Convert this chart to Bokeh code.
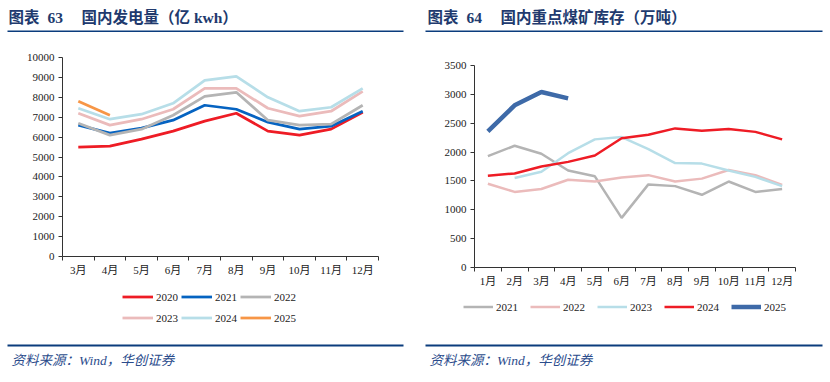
import numpy as np
from bokeh.plotting import figure
from bokeh.models import Legend, LegendItem, FixedTicker, Range1d, Label, BoxAnnotation
from bokeh.layouts import column, row
from bokeh.embed import file_html
from bokeh.resources import INLINE

# ---------------- data: left chart (国内发电量, 亿kwh) ----------------
months_l = ["3月", "4月", "5月", "6月", "7月", "8月", "9月", "10月", "11月", "12月"]
gen_2020 = [5500, 5550, 5900, 6300, 6800, 7200, 6300, 6100, 6400, 7250]
gen_2021 = [6600, 6200, 6450, 6850, 7600, 7400, 6750, 6400, 6550, 7300]
gen_2022 = [6700, 6100, 6400, 7100, 8050, 8250, 6850, 6600, 6650, 7600]
gen_2023 = [7200, 6600, 6900, 7400, 8450, 8450, 7450, 7050, 7300, 8300]
gen_2024 = [7450, 6900, 7150, 7700, 8850, 9050, 8000, 7300, 7500, 8450]
gen_2025 = [7800, 7100]
years_l = ["2020", "2021", "2022", "2023", "2024", "2025"]

# ---------------- data: right chart (国内重点煤矿库存, 万吨) ----------------
months_r = ["1月", "2月", "3月", "4月", "5月", "6月", "7月", "8月", "9月", "10月", "11月", "12月"]
inv_2021 = [1930, 2110, 1970, 1680, 1580, 860, 1440, 1410, 1260, 1490, 1310, 1360]
inv_2022 = [1450, 1310, 1360, 1520, 1490, 1560, 1600, 1490, 1540, 1690, 1600, 1430]
inv_2023 = [np.nan, 1550, 1660, 1980, 2220, 2260, 2050, 1810, 1800, 1680, 1570, 1410]
inv_2024 = [1590, 1630, 1750, 1830, 1940, 2240, 2300, 2410, 2370, 2400, 2350, 2220]
inv_2025 = [2360, 2810, 3040, 2930]
years_r = ["2021", "2022", "2023", "2024", "2025"]

FONT = "Liberation Serif, Noto Sans CJK SC"
AXIS_COLOR = "#333333"
NAVY = "#0B3C7D"
TITLE_COLOR = "#213A6E"
SOURCE_COLOR = "#2B4C8C"


def style_base(p):
    p.background_fill_color = "white"
    p.border_fill_color = "white"
    p.outline_line_color = None
    p.frame_align = False


def make_fig(width, height, mbl, mbr, mbt, mbb, labels, ymax, ystep):
    n = len(labels)
    p = figure(width=width, height=height, output_backend="svg", toolbar_location=None,
               title=None,
               x_range=Range1d(-0.5, n - 0.5), y_range=Range1d(0, ymax),
               min_border_left=mbl, min_border_right=mbr,
               min_border_top=mbt, min_border_bottom=mbb)
    style_base(p)
    p.xgrid.visible = False
    p.ygrid.visible = False
    xa = p.xaxis[0]
    xa.ticker = FixedTicker(ticks=list(range(n)),
                            minor_ticks=[i - 0.5 for i in range(n + 1)])
    xa.major_label_overrides = {i: lab for i, lab in enumerate(labels)}
    xa.major_tick_in = 0
    xa.major_tick_out = 0
    xa.minor_tick_in = 0
    xa.minor_tick_out = 4
    xa.major_label_standoff = 3
    ya = p.yaxis[0]
    ya.ticker = FixedTicker(ticks=list(range(0, ymax + 1, ystep)), minor_ticks=[])
    ya.major_tick_in = 0
    ya.major_tick_out = 4
    ya.minor_tick_out = 0
    ya.major_label_standoff = 4
    for ax in (xa, ya):
        ax.axis_line_color = AXIS_COLOR
        ax.major_tick_line_color = AXIS_COLOR
        ax.minor_tick_line_color = AXIS_COLOR
        ax.major_label_text_font = FONT
        ax.major_label_text_font_size = "11px"
        ax.major_label_text_color = "#222222"
    return p


def plain_fig(width, height, xr, yr):
    f = figure(width=width, height=height, output_backend="svg", toolbar_location=None,
               title=None, x_range=xr, y_range=yr,
               x_axis_type=None, y_axis_type=None,
               min_border_left=0, min_border_right=0, min_border_top=0, min_border_bottom=0)
    style_base(f)
    f.xgrid.visible = False
    f.ygrid.visible = False
    return f


def legend_fig(width, height, years, series, colors, widths, glyph_w, location, spacing, ncols, label_w):
    # legend-only panel: the series are drawn off-range (clipped), only the legend shows
    lf = plain_fig(width, height, Range1d(0, 1), Range1d(-1, 0))
    items = []
    for yr, vals, col, w in zip(years, series, colors, widths):
        r = lf.line(list(range(len(vals))), vals, line_color=col, line_width=w)
        items.append(LegendItem(label=yr, renderers=[r]))
    leg = Legend(items=items, orientation="horizontal", ncols=ncols, location=location,
                 padding=0, margin=0, spacing=spacing, glyph_width=glyph_w, glyph_height=19,
                 label_height=19, label_width=label_w, label_standoff=3,
                 border_line_color=None, background_fill_alpha=0,
                 label_text_font=FONT, label_text_font_size="11px",
                 label_text_color="#222222")
    lf.add_layout(leg)
    return lf


def header_fig(width, num, title, x0, rule_l, rule_r):
    h = 32
    f = plain_fig(width, h, Range1d(0, width), Range1d(h, 0))
    common = dict(y=17, text_baseline="middle", text_font=FONT, text_font_style="bold",
                  text_font_size="15.5px", text_color=TITLE_COLOR)
    f.add_layout(Label(x=x0, text="图表", **common))
    f.add_layout(Label(x=x0 + 39, text=num, **common))
    f.add_layout(Label(x=x0 + 73, text=title, **common))
    f.add_layout(BoxAnnotation(left=rule_l, right=rule_r, top=30, bottom=32,
                               fill_color=NAVY, fill_alpha=1, line_color=None, level="overlay"))
    return f


def footer_fig(width, x0, rule_l, rule_r):
    h = 42
    f = plain_fig(width, h, Range1d(0, width), Range1d(h, 0))
    f.add_layout(BoxAnnotation(left=rule_l, right=rule_r, top=4, bottom=6,
                               fill_color=NAVY, fill_alpha=1, line_color=None, level="overlay"))
    f.add_layout(Label(x=x0, y=20, text="资料来源：Wind，华创证券", text_baseline="middle",
                       text_font=FONT, text_font_style="italic", text_font_size="13.5px",
                       text_color=SOURCE_COLOR))
    return f


# ---------------- left panel ----------------
pl = make_fig(414, 246, 62, 36, 25, 22, months_l, 10000, 1000)
series_l = [gen_2020, gen_2021, gen_2022, gen_2023, gen_2024, gen_2025]
colors_l = ["#EE1C25", "#0563C1", "#B4B4B4", "#EBBBBB", "#B7DEE8", "#F79646"]
widths_l = [2.75] * 6
for vals, col, w in zip(series_l, colors_l, widths_l):
    pl.line(list(range(len(vals))), vals, line_color=col, line_width=w)
ll = legend_fig(414, 62, years_l, series_l, colors_l, widths_l, 31, (122, 13), 2, 3, 23)

# ---------------- right panel ----------------
pr = make_fig(416, 258, 60, 35, 33, 23, months_r, 3500, 500)
series_r = [inv_2021, inv_2022, inv_2023, inv_2024, inv_2025]
colors_r = ["#B4B4B4", "#EBBBBB", "#B7DEE8", "#EE1C25", "#3E6AA8"]
widths_r = [2.5, 2.5, 2.5, 2.5, 4.5]
for vals, col, w in zip(series_r, colors_r, widths_r):
    pr.line(list(range(len(vals))), vals, line_color=col, line_width=w)
lr = legend_fig(416, 50, years_r, series_r, colors_r, widths_r, 30, (49, 24), 12, 5, 22)

# ---------------- headers / footers ----------------
hl = header_fig(414, "63", "国内发电量（亿 kwh）", 8, 7, 403)
hr = header_fig(416, "64", "国内重点煤矿库存（万吨）", 13, 11, 408)
fl = footer_fig(414, 11, 7, 403)
fr = footer_fig(416, 15, 11, 408)

layout = row(column(hl, pl, ll, fl), column(hr, pr, lr, fr))

with open("out.html", "w") as f:
    f.write(file_html(layout, INLINE))
